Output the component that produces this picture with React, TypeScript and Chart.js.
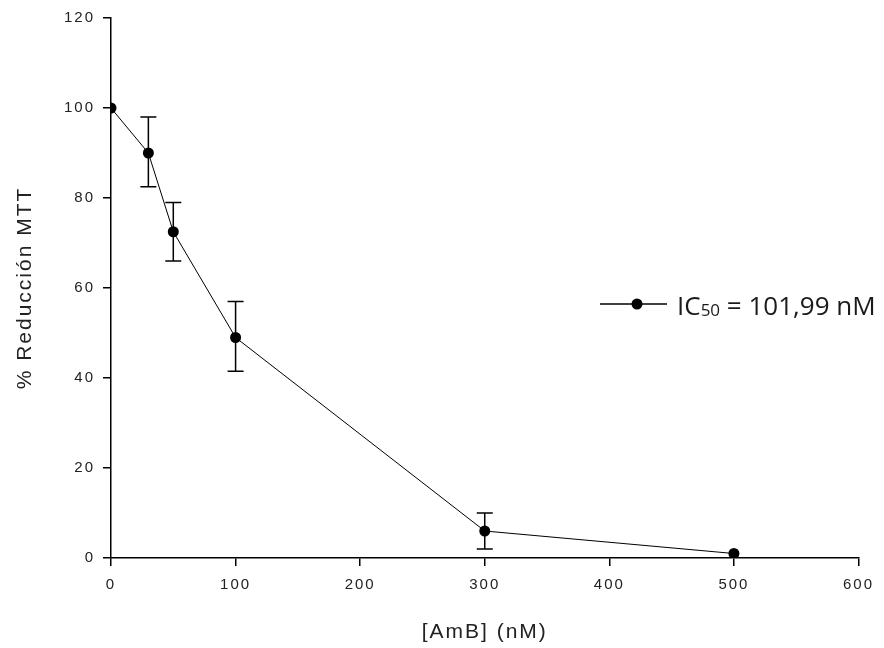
import { useEffect, useRef } from "react";
import { Chart, registerables } from "chart.js";

Chart.register(...registerables);

const concentrations = [0, 30, 50, 100, 300, 500];
const reduction = [100, 90, 72.5, 49, 6, 1];
const errLow: (number | null)[] = [null, 82.5, 66, 41.5, 2, null];
const errHigh: (number | null)[] = [null, 98, 79, 57, 10, null];
const xTicks = [0, 100, 200, 300, 400, 500, 600];
const yTicks = [0, 20, 40, 60, 80, 100, 120];
const xTitle = "[AmB] (nM)";
const yTitle = "% Reducción MTT";
const legendMain = "IC";
const legendSub = "50";
const legendRest = " = 101,99 nM";

const spacing = {
  id: "spacing",
  beforeLayout(chart: any) {
    chart.ctx.letterSpacing = "2px";
  },
  beforeDraw(chart: any) {
    chart.ctx.letterSpacing = "2px";
  },
};

const errorBars = {
  id: "errorBars",
  beforeDatasetsDraw(chart: any) {
    const { ctx, scales } = chart;
    const x = scales.x;
    const y = scales.y;
    ctx.save();
    ctx.strokeStyle = "#000";
    ctx.lineWidth = 1.5;
    concentrations.forEach((c, i) => {
      const lo = errLow[i];
      const hi = errHigh[i];
      if (lo == null || hi == null) return;
      const px = x.getPixelForValue(c);
      const pLo = y.getPixelForValue(lo);
      const pHi = y.getPixelForValue(hi);
      ctx.beginPath();
      ctx.moveTo(px, pLo);
      ctx.lineTo(px, pHi);
      ctx.moveTo(px - 8, pLo);
      ctx.lineTo(px + 8, pLo);
      ctx.moveTo(px - 8, pHi);
      ctx.lineTo(px + 8, pHi);
      ctx.stroke();
    });
    ctx.restore();
  },
};

const customLegend = {
  id: "customLegend",
  afterDraw(chart: any) {
    const { ctx, chartArea } = chart;
    const ly = chartArea.top + 286;
    const x0 = chartArea.left + 489;
    ctx.save();
    ctx.letterSpacing = "0px";
    ctx.strokeStyle = "#000";
    ctx.lineWidth = 1.5;
    ctx.beginPath();
    ctx.moveTo(x0, ly);
    ctx.lineTo(x0 + 67, ly);
    ctx.stroke();
    ctx.fillStyle = "#000";
    ctx.beginPath();
    ctx.arc(x0 + 37, ly, 5.5, 0, Math.PI * 2);
    ctx.fill();
    ctx.fillStyle = "#1a1a1a";
    ctx.textBaseline = "alphabetic";
    ctx.textAlign = "left";
    const base = ly + 11;
    let tx = x0 + 77;
    ctx.font = "26px 'Open Sans'";
    ctx.fillText(legendMain, tx, base);
    tx += ctx.measureText(legendMain).width;
    ctx.font = "17px 'Open Sans'";
    ctx.fillText(legendSub, tx, base + 1);
    tx += ctx.measureText(legendSub).width;
    ctx.font = "26px 'Open Sans'";
    ctx.fillText(legendRest, tx, base);
    ctx.restore();
  },
};

export default function App() {
  const ref = useRef<HTMLCanvasElement | null>(null);
  useEffect(() => {
    if (!ref.current) return;
    const tickFont = { family: "'Liberation Sans', Arial, sans-serif", size: 15 };
    const titleFont = { family: "'Liberation Sans', Arial, sans-serif", size: 21 };
    const chart = new Chart(ref.current, {
      type: "line",
      data: {
        datasets: [
          {
            data: concentrations.map((c, i) => ({ x: c, y: reduction[i] })),
            borderColor: "#000",
            borderWidth: 1,
            backgroundColor: "#000",
            pointBackgroundColor: "#000",
            pointBorderWidth: 0,
            pointRadius: 5.5,
            tension: 0,
          },
        ],
      },
      options: {
        animation: false,
        responsive: false,
        maintainAspectRatio: false,
        layout: { padding: { top: 18, right: 23, bottom: 0, left: 0 } },
        plugins: { legend: { display: false }, tooltip: { enabled: false } },
        scales: {
          x: {
            type: "linear",
            min: 0,
            max: 600,
            afterBuildTicks: (s: any) => {
              s.ticks = xTicks.map((v) => ({ value: v }));
            },
            afterFit: (s: any) => {
              s.height = 90;
            },
            ticks: { font: tickFont, color: "#222", padding: 10, maxRotation: 0 },
            grid: { drawOnChartArea: false, drawTicks: true, tickLength: 8, color: "#000", lineWidth: 1.5 },
            border: { color: "#000", width: 1.5 },
            title: { display: true, text: xTitle, font: titleFont, color: "#222", padding: { top: 0, bottom: 3 } },
          },
          y: {
            type: "linear",
            min: 0,
            max: 120,
            afterBuildTicks: (s: any) => {
              s.ticks = yTicks.map((v) => ({ value: v }));
            },
            afterFit: (s: any) => {
              s.width = 111;
            },
            ticks: { font: tickFont, color: "#222", padding: 8 },
            grid: { drawOnChartArea: false, drawTicks: true, tickLength: 8, color: "#000", lineWidth: 1.5 },
            border: { color: "#000", width: 1.5 },
            title: { display: true, text: yTitle, font: titleFont, color: "#222", padding: { top: 13, bottom: 0 } },
          },
        },
      },
      plugins: [spacing, errorBars, customLegend],
    });
    return () => chart.destroy();
  }, []);
  return (
    <div style={{ position: "absolute", left: 0, top: 0, width: 884, height: 648, background: "#fff" }}>
      <canvas ref={ref} width={884} height={648} style={{ display: "block" }} />
    </div>
  );
}
